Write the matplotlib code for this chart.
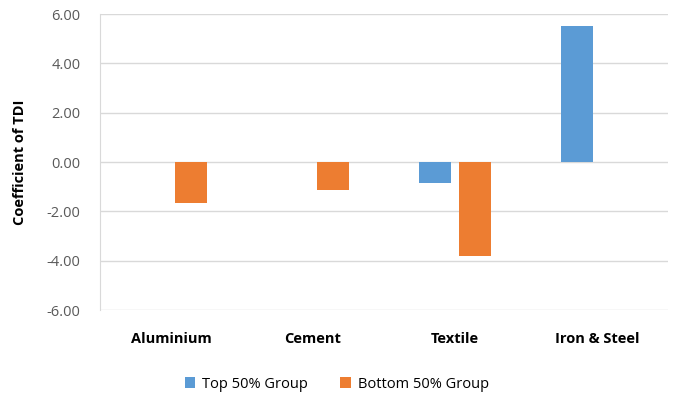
import numpy as np
import matplotlib
matplotlib.use("Agg")
import matplotlib.pyplot as plt

plt.rcParams["font.family"] = ["Open Sans", "DejaVu Sans"]

categories = ["Aluminium", "Cement", "Textile", "Iron & Steel"]
top_50 = [np.nan, np.nan, -0.87, 5.50]
bottom_50 = [-1.65, -1.15, -3.83, np.nan]
series_names = ["Top 50% Group", "Bottom 50% Group"]
yticks = [-6, -4, -2, 0, 2, 4, 6]

blue = "#5B9BD5"
orange = "#ED7D31"

fig = plt.figure(figsize=(6.74, 4.0), dpi=100)
ax = fig.add_axes([100 / 674, 90 / 400, 568 / 674, 296 / 400])

x = np.arange(len(categories))
w = 0.232
ax.bar(x - 0.141, top_50, width=w, color=blue, label=series_names[0], zorder=3)
ax.bar(x + 0.141, bottom_50, width=w, color=orange, label=series_names[1], zorder=3)

ax.set_xlim(-0.5, len(categories) - 0.5)
ax.set_ylim(-6, 6)
ax.set_yticks(yticks)
ax.set_yticklabels([f"{v:.2f}" for v in yticks], fontsize=10.5, color="#595959")
ax.set_xticks(x)
ax.set_xticklabels(categories, fontsize=10.5, fontweight="bold", color="black")
ax.tick_params(axis="y", length=0, pad=14)
ax.tick_params(axis="x", length=0, pad=16)

ax.grid(axis="y", color="#d9d9d9", linewidth=1, zorder=0)
for side in ["top", "right", "bottom"]:
    ax.spines[side].set_visible(False)
ax.spines["left"].set_color("#d9d9d9")

ax.set_ylabel("Coefficient of TDI", fontsize=10.5, fontweight="bold", labelpad=14)

fig.legend(loc="lower center", bbox_to_anchor=(0.5, -0.012), ncol=2, frameon=False,
           fontsize=10.5, handlelength=0.7, handleheight=0.7, columnspacing=2.2,
           handletextpad=0.5)

fig.savefig("out.png", dpi=100)
